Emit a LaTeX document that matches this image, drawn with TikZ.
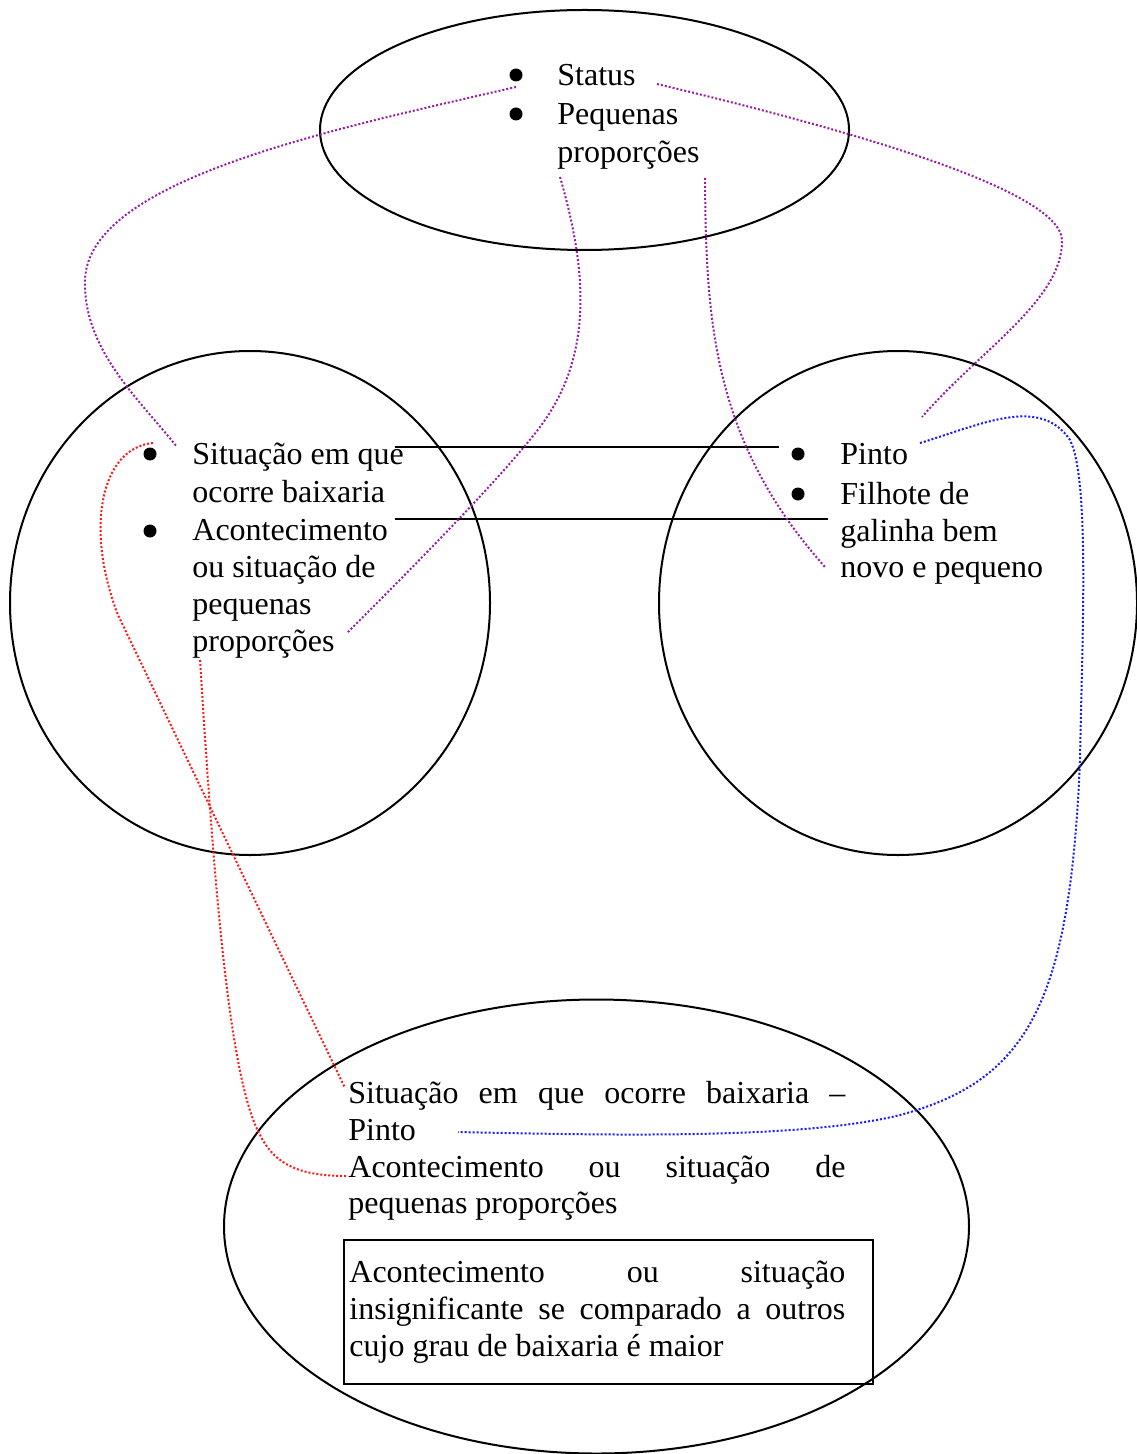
\documentclass[tikz,border=0pt]{standalone}
\usepackage{fontspec}
\setmainfont{Liberation Serif}
\usetikzlibrary{shapes.geometric}
\definecolor{violetline}{RGB}{150,30,165}
\definecolor{redline}{RGB}{255,25,25}
\definecolor{blueline}{RGB}{25,25,255}
\begin{document}
\begin{tikzpicture}[x=0.5pt,y=-0.5pt,
  txt/.style={anchor=base west, inner sep=0pt, font=\fontsize{16pt}{18.5pt}\selectfont},
  blob/.style={draw, ellipse, line width=1pt, inner sep=0pt},
  bul/.style={circle, fill, inner sep=0pt, minimum size=6.5pt},
  link/.style={line width=1pt, dash pattern=on 1pt off 1pt},
  bar/.style={line width=1pt}]
\useasboundingbox (0,0) rectangle (1136,1454);

% the four groups
\node[blob, minimum width=264.5pt, minimum height=120pt] (topE) at (584.5,130) {};
\node[blob, minimum width=240pt, minimum height=252pt] (leftC) at (250,603) {};
\node[blob, minimum width=239pt, minimum height=252pt] (rightC) at (898,603) {};
\node[blob, minimum width=372.5pt, minimum height=227pt] (botE) at (596.5,1226.5) {};
\node[draw, line width=1pt, inner sep=0pt, minimum width=264.5pt, minimum height=72pt] (box) at (608.5,1312) {};

% top group
\node[bul] (tb1) at (516,75) {};
\node[bul] (tb2) at (516,114) {};
\node[txt] (t1) at (557,86) {Status};
\node[txt] (t2) at (557,125) {Pequenas};
\node[txt] (t3) at (557,163) {proporções};

% left group
\node[bul] (lb1) at (150,454) {};
\node[bul] (lb2) at (150,531) {};
\node[txt] (l1) at (192,465) {Situação em que};
\node[txt] (l2) at (192,502) {ocorre baixaria};
\node[txt] (l3) at (192,540) {Acontecimento};
\node[txt] (l4) at (192,577) {ou situação de};
\node[txt] (l5) at (192,614) {pequenas};
\node[txt] (l6) at (192,651) {proporções};

% right group
\node[bul] (rb1) at (798,454) {};
\node[bul] (rb2) at (798,494) {};
\node[txt] (r1) at (840,465) {Pinto};
\node[txt] (r2) at (840,504) {Filhote de};
\node[txt] (r3) at (840,541) {galinha bem};
\node[txt] (r4) at (840,577) {novo e pequeno};

% bottom group
\node[txt] (b1) at (348,1103) {\makebox[248.5pt][s]{Situação em que ocorre baixaria –}};
\node[txt] (b2) at (348,1140) {Pinto};
\node[txt] (b3) at (348,1177) {\makebox[248.5pt][s]{Acontecimento ou situação de}};
\node[txt] (b4) at (348,1213) {pequenas proporções};
\node[txt] (k1) at (349,1282) {\makebox[248pt][s]{Acontecimento ou situação}};
\node[txt] (k2) at (349,1319) {\makebox[248pt][s]{insignificante se comparado a outros}};
\node[txt] (k3) at (349,1356) {cujo grau de baixaria é maior};

% link end points
\coordinate (pa0) at (516,87);   \coordinate (pa1) at (177,447);
\coordinate (pb0) at (657,84);   \coordinate (pb1) at (922,417);
\coordinate (pc0) at (560,177);  \coordinate (pc1) at (347,633);
\coordinate (pd0) at (705,178);  \coordinate (pd1) at (825,567);
\coordinate (ra0) at (153,443);  \coordinate (ra1) at (345,1088);
\coordinate (rb0) at (200,660);  \coordinate (rb1) at (347,1176);
\coordinate (bl0) at (920,443);  \coordinate (bl1) at (458,1132);
\coordinate (h1a) at (395,447);  \coordinate (h1b) at (779,447);
\coordinate (h2a) at (395,519);  \coordinate (h2b) at (828,519);

% solid links between the side groups
\draw[bar] (h1a) -- (h1b);
\draw[bar] (h2a) -- (h2b);

% dotted links
\draw[link, violetline] (pa0) .. controls (330,130) and (88,180) .. (85,280)
  .. controls (83,350) and (140,400) .. (pa1);
\draw[link, violetline] (pb0) .. controls (850,130) and (1060,190) .. (1062,240)
  .. controls (1063,300) and (980,350) .. (pb1);
\draw[link, violetline] (pc0) .. controls (590,280) and (590,360) .. (540,427)
  .. controls (500,480) and (400,580) .. (pc1);
\draw[link, violetline] (pd0) .. controls (706,320) and (712,440) .. (pd1);
\draw[link, redline] (ra0) .. controls (100,448) and (85,530) .. (118,615) -- (ra1);
\draw[link, redline] (rb0) .. controls (215,900) and (230,1080) .. (260,1135)
  .. controls (275,1165) and (300,1176) .. (rb1);
\draw[link, blueline] (bl0) .. controls (980,425) and (1040,395) .. (1070,440)
  .. controls (1090,480) and (1082,640) .. (1080,760)
  .. controls (1070,1000) and (1030,1080) .. (900,1115)
  .. controls (800,1140) and (600,1135) .. (bl1);
\end{tikzpicture}
\end{document}
